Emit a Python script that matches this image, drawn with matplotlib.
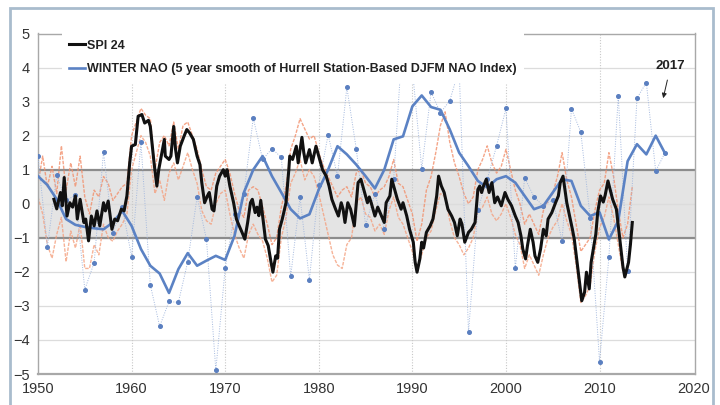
import numpy as np
import matplotlib
matplotlib.use("Agg")
import matplotlib.pyplot as plt
from matplotlib.patches import Rectangle

plt.rcParams['font.family'] = ['Liberation Sans', 'DejaVu Sans']

# SPI 24 (black), read at turning points
spi_year = [1951.7, 1952.0, 1952.4, 1952.6, 1952.8, 1953.1, 1953.4, 1953.7, 1954.0, 1954.2,
            1954.5, 1954.9, 1955.1, 1955.4, 1955.7, 1956.0, 1956.3, 1956.6, 1957.0, 1957.2,
            1957.5, 1957.9, 1958.2, 1958.5, 1958.9, 1959.2, 1959.5, 1959.8, 1960.0, 1960.4,
            1960.7, 1961.1, 1961.4, 1961.8, 1962.0, 1962.4, 1962.7, 1962.9, 1963.3, 1963.5,
            1963.6, 1964.0, 1964.2, 1964.5, 1964.7, 1964.9, 1965.2, 1965.6, 1965.9, 1966.2,
            1966.6, 1967.0, 1967.3, 1967.5, 1967.8, 1968.1, 1968.3, 1968.6, 1968.8, 1969.1,
            1969.4, 1969.8, 1970.0, 1970.2, 1970.5, 1970.9, 1971.2, 1971.5, 1971.8, 1972.1,
            1972.4, 1972.7, 1972.9, 1973.2, 1973.4, 1973.6, 1973.8, 1974.0, 1974.3, 1974.6,
            1974.9, 1975.1, 1975.4, 1975.6, 1975.8, 1976.1, 1976.5, 1976.8, 1976.9, 1977.2,
            1977.6, 1977.8, 1978.2, 1978.4, 1978.6, 1979.0, 1979.3, 1979.7, 1980.1, 1980.4,
            1980.8, 1981.1, 1981.4, 1981.8, 1982.1, 1982.4, 1982.6, 1982.8, 1983.1, 1983.4,
            1983.8, 1984.2, 1984.5, 1984.9, 1985.2, 1985.4, 1985.6, 1986.0, 1986.3, 1986.7,
            1987.0, 1987.2, 1987.6, 1987.8, 1988.1, 1988.4, 1988.8, 1989.0, 1989.4, 1989.7,
            1990.1, 1990.3, 1990.5, 1990.8, 1991.0, 1991.2, 1991.5, 1991.9, 1992.2, 1992.6,
            1992.8, 1993.1, 1993.4, 1993.8, 1994.2, 1994.5, 1994.8, 1995.1, 1995.3, 1995.6,
            1996.0, 1996.3, 1996.7, 1997.0, 1997.2, 1997.4, 1997.6, 1997.9, 1998.2, 1998.5,
            1998.8, 1999.1, 1999.5, 1999.9, 2000.2, 2000.6, 2001.0, 2001.3, 2001.6, 2001.8,
            2002.1, 2002.3, 2002.6, 2002.9, 2003.1, 2003.4, 2003.7, 2004.0, 2004.3, 2004.5,
            2004.9, 2005.3, 2005.6, 2005.8, 2006.1, 2006.3, 2006.5, 2006.8, 2007.1, 2007.3,
            2007.6, 2007.9, 2008.1, 2008.4, 2008.6, 2008.9, 2009.1, 2009.4, 2009.6, 2009.8,
            2010.1, 2010.4, 2010.6, 2010.9, 2011.1, 2011.4, 2011.8, 2012.2, 2012.5, 2012.7,
            2013.1, 2013.3, 2013.5]
spi_val = [0.13, -0.15, 0.33, -0.06, 0.77, -0.36, 0.03, -0.10, 0.23, -0.45,
           0.13, -0.55, -0.45, -1.09, -0.36, -0.65, -0.21, -0.65, 0.03, -0.21,
           0.08, -0.75, -0.45, -0.50, -0.16, -0.21, 0.23, 1.20, 1.69, 1.74,
           2.57, 2.62, 2.37, 2.45, 2.27, 1.20, 0.52, 1.00, 1.59, 1.89,
           1.40, 1.30, 1.40, 2.27, 1.59, 1.20, 1.69, 1.98, 2.18, 2.08,
           1.89, 1.40, 1.15, 0.62, 0.03, 0.23, 0.33, -0.16, -0.21, 0.52,
           0.81, 1.00, 0.81, 1.00, 0.52, 0.03, -0.45, -0.65, -0.84, -1.04,
           -0.55, 0.03, 0.13, -0.26, -0.10, -0.35, 0.10, -0.36, -1.04, -1.23,
           -1.72, -2.01, -1.53, -1.60, -0.75, -0.45, 0.03, 1.00, 1.40, 1.30,
           1.69, 1.20, 1.95, 1.50, 1.20, 1.59, 1.20, 1.69, 1.30, 1.00,
           0.81, 0.52, 0.13, -0.16, -0.36, 0.03, -0.16, -0.55, 0.03, -0.16,
           -0.65, 0.62, 0.72, 0.33, 0.03, 0.20, 0.03, -0.36, -0.10, -0.36,
           -0.55, 0.03, 0.23, 0.72, 0.42, 0.13, -0.16, 0.03, -0.36, -0.75,
           -1.13, -1.72, -2.01, -1.62, -1.13, -1.30, -0.84, -0.65, -0.45, 0.23,
           0.81, 0.52, 0.33, -0.16, -0.36, -0.55, -0.94, -0.45, -0.60, -1.13,
           -0.84, -0.75, -0.55, 0.42, 0.52, 0.33, 0.52, 0.72, 0.33, 0.62,
           0.03, 0.20, -0.06, 0.33, 0.13, -0.06, -0.36, -0.55, -0.94, -1.33,
           -1.62, -1.23, -0.75, -1.13, -1.53, -1.72, -1.33, -0.75, -0.94, -0.45,
           -0.26, 0.03, 0.23, 0.62, 0.81, 0.42, 0.03, -0.36, -0.75, -1.04,
           -1.72, -2.40, -2.85, -2.60, -2.01, -2.50, -1.72, -1.23, -0.90, -0.26,
           0.23, 0.05, 0.25, 0.67, 0.45, 0.13, -0.16, -1.13, -1.85, -2.15,
           -1.72, -1.20, -0.55]

# individual SPI traces (thin orange), every half year from 1950.0
orange_a = [0.6, 1.4, 0.5, 1.1, 0.3, 1.7, 0.4, 1.2, 0.5, 1.4,
            0.2, -0.3, 0.4, 0.2, 0.8, 0.6, 0.1, 0.3, 0.5, 0.6,
            2.0, 2.4, 2.8, 2.6, 2.5, 1.0, 1.8, 2.0, 1.7, 2.4,
            1.6, 2.3, 2.4, 2.0, 1.6, 1.0, 0.5, 0.4, 0.9, 1.1,
            1.3, 0.9, 0.3, -0.2, -0.4, 0.4, 0.5, 0.4, -0.1, -0.6,
            -1.2, -1.0, -0.1, 0.5, 1.6, 2.0, 2.5, 2.2, 1.9, 2.0,
            1.5, 1.1, 0.8, 0.5, 0.2, 0.4, 0.5, 0.2, 0.9, 1.0,
            0.6, 0.5, 0.2, 0.4, 0.5, 0.8, 1.3, 0.6, 0.5, 0.1,
            -0.3, -1.1, -0.6, 0.4, 0.8, 1.5, 2.3, 2.7, 1.8, 1.2,
            0.8, 0.3, 0.0, 0.2, 1.0, 1.3, 1.7, 1.2, 0.9, 1.1,
            1.6, 1.0, 0.4, 0.0, -0.6, -0.3, -0.6, -0.9, -0.2, 0.1,
            0.3, 0.8, 1.5, 0.7, 0.2, -0.6, -1.4, -1.2, -1.0, -0.2,
            0.4, 0.6, 1.5, 0.8, -0.2, -1.0, -0.6, 0.5]
orange_b = [0.2, -0.3, -1.2, -1.6, -0.9, -0.4, -1.7, -0.8, -1.3, -0.6,
            -1.9, -1.9, -1.2, -1.5, -0.6, -1.0, -1.1, -0.8, -0.6, -0.3,
            1.0, 1.5, 2.0, 1.8, 1.4, 0.3, 0.7, 0.1, 0.9, 1.2,
            0.7, 1.1, 1.5, 1.0, 0.6, -0.2, -0.5, -0.6, 0.0, 0.3,
            0.4, -0.3, -0.9, -1.3, -1.6, -0.9, -0.6, -0.9, -1.1, -1.6,
            -2.3, -2.1, -1.0, -0.4, 0.6, 0.9, 1.3, 0.7, 1.0, 0.8,
            0.3, -0.3, -0.9, -1.5, -1.8, -1.9, -1.2, -1.0, 0.0, 0.2,
            -0.3, -0.4, -0.8, -0.6, -0.9, -0.2, 0.2, -0.4, -0.6, -1.0,
            -1.4, -1.9, -1.5, -1.0, -0.8, -0.2, 0.3, 0.2, -0.5, -1.0,
            -1.2, -1.5, -1.3, -1.0, -0.2, -0.1, 0.2, -0.3, -0.5, -0.3,
            0.0, -0.4, -0.9, -1.2, -1.9, -1.5, -1.8, -2.1, -1.5, -1.0,
            -0.7, -0.5, 0.0, -0.5, -0.9, -1.8, -2.9, -2.7, -2.4, -1.4,
            -0.7, -0.4, 0.2, -0.4, -1.2, -2.0, -1.9, -0.8]
orange_year = np.arange(1950, 1950 + 0.5 * len(orange_a), 0.5)

# winter NAO, annual values 1950-2017 and 5-year smooth
nao_year = np.arange(1950, 2018)
nao_annual = [1.40, -1.26, 0.83, 0.10, 0.25, -2.52, -1.73, 1.52, -0.85, -0.10,
              -1.55, 1.80, -2.38, -3.60, -2.87, -2.90, -1.70, 0.20, -1.04, -4.89,
              -1.89, -0.30, 0.30, 2.52, 1.30, 1.62, 1.36, -2.13, 0.19, -2.23,
              0.56, 2.03, 0.81, 3.42, 1.62, -0.62, 0.30, -0.75, 0.72, 5.08,
              3.96, 1.03, 3.28, 2.67, 3.03, 3.96, -3.78, -0.17, 0.72, 1.70,
              2.80, -1.89, 0.76, 0.20, -0.07, 0.12, -1.09, 2.79, 2.10, -0.41,
              -4.64, -1.57, 3.17, -1.97, 3.10, 3.56, 0.96, 1.50]
nao_smooth = [0.81, 0.55, 0.13, -0.45, -0.62, -0.68, -0.72, -0.75, -0.55, -0.21,
              -0.65, -1.33, -1.82, -2.05, -2.62, -1.92, -1.45, -1.82, -1.67, -1.53,
              -1.65, -0.94, 0.33, 1.00, 1.40, 0.81, 0.33, -0.16, -0.43, -0.31,
              0.42, 1.00, 1.69, 1.45, 1.15, 0.81, 0.45, 1.00, 1.89, 1.98,
              2.86, 3.18, 2.84, 2.76, 2.18, 1.50, 1.10, 0.67, 0.48, 0.72,
              0.81, 0.62, 0.23, -0.16, -0.06, 0.33, 0.72, 0.67, -0.06, -0.36,
              -0.25, -1.05, -0.50, 1.25, 1.75, 1.45, 2.00, 1.48]

x_ticks = [1950, 1960, 1970, 1980, 1990, 2000, 2010, 2020]
y_ticks = [-5, -4, -3, -2, -1, 0, 1, 2, 3, 4, 5]

fig = plt.figure(figsize=(7.2, 4.05), dpi=100)
ax = fig.add_axes([38/720, 1 - 374/405, 657/720, 340.5/405])

ax.axhspan(-1, 1, color='#e4e4e4', zorder=0)
for y in y_ticks:
    if abs(y) == 1:
        ax.axhline(y, color='#8c8c8c', lw=1.6, zorder=1)
    else:
        ax.axhline(y, color='#dcdcdc', lw=0.9, zorder=0.5)
for x in x_ticks[1:-1]:
    ax.axvline(x, color='#c8c8c8', lw=0.8, ls=(0, (1, 1.5)), zorder=0.5)

ax.plot(orange_year, orange_a, color='#f28f6b', lw=1.0, alpha=0.8, ls=(0, (2.5, 1)), zorder=2)
ax.plot(orange_year, orange_b, color='#f4a07f', lw=1.0, alpha=0.8, ls=(0, (2.5, 1)), zorder=2)
ax.plot(nao_year, nao_annual, color='#a3b8de', lw=0.7, ls=(0, (1, 1.5)),
        marker='o', ms=2.6, mfc='#5a7fc0', mec='#5a7fc0', zorder=3)
ax.plot(nao_year, nao_smooth, color='#5b82c4', lw=1.9, zorder=4,
        label='WINTER NAO (5 year smooth of Hurrell Station-Based DJFM NAO Index)')
ax.plot(spi_year, spi_val, color='#111111', lw=2.2, zorder=5, label='SPI 24')

ax.annotate('2017', xy=(2016.8, 3.1), xytext=(2017.6, 4.05), ha='center', va='center',
            fontsize=9.5, fontweight='bold', color='#222222',
            arrowprops=dict(arrowstyle='-|>', color='#222222', lw=0.7,
                            mutation_scale=7, shrinkA=4, shrinkB=0))

ax.set_xlim(1950, 2020.2)
ax.set_ylim(-5, 5)
ax.set_xticks(x_ticks)
ax.set_yticks(y_ticks)
ax.tick_params(length=0, labelsize=10.5, colors='#333333', pad=6)
for s in ax.spines.values():
    s.set_color('#a8a8a8')
    s.set_linewidth(1.0)
ax.spines['bottom'].set_linewidth(1.6)

handles, labels = ax.get_legend_handles_labels()
leg = ax.legend(handles[::-1], labels[::-1], loc='upper left',
                bbox_to_anchor=(0.036, 1.0044), borderaxespad=0, borderpad=0.6,
                handlelength=1.3, handletextpad=0.1, labelspacing=0.95,
                frameon=True, fancybox=False, framealpha=1,
                prop={'size': 9, 'weight': 'bold'})
leg.get_frame().set_facecolor('white')
leg.get_frame().set_edgecolor('none')
leg.set_zorder(10)
for t in leg.get_texts():
    t.set_color('#222222')

fig.patches.append(Rectangle((10/720, -0.05), 703/720, 1.05 - 8/405, transform=fig.transFigure,
                             fill=False, edgecolor='#a9bccd', lw=2))

fig.savefig('out.png', dpi=100)
